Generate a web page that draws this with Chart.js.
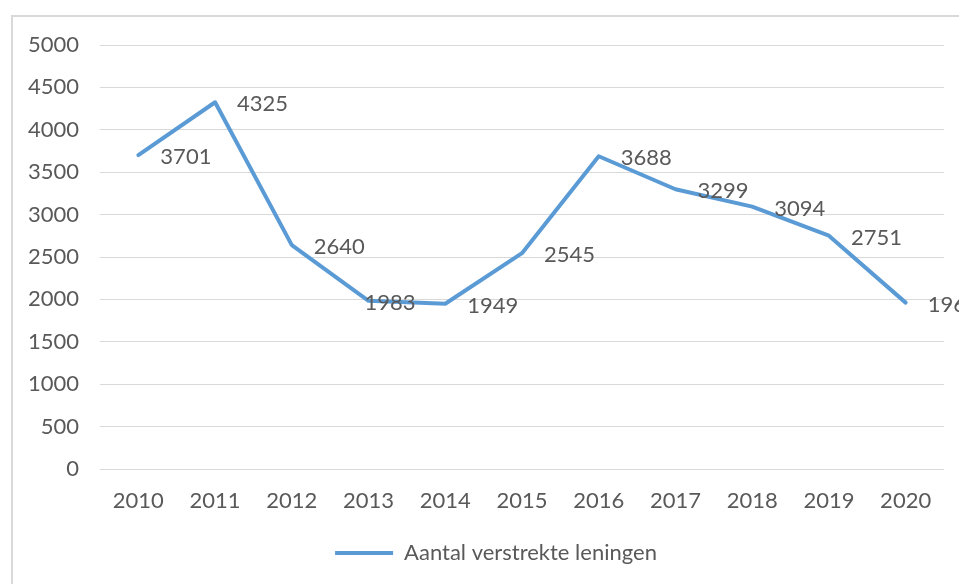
<!DOCTYPE html>
<html>
<head>
<meta charset="utf-8">
<script src="https://cdn.jsdelivr.net/npm/chart.js@4/dist/chart.umd.min.js"></script>
<style>
  html, body { margin: 0; padding: 0; background: #fff; }
  #wrap { position: relative; width: 959px; height: 584px; }
</style>
</head>
<body>
<div id="wrap"><canvas id="loansChart" width="959" height="584"></canvas></div>
<script>
// Data
const years = ['2010', '2011', '2012', '2013', '2014', '2015', '2016', '2017', '2018', '2019', '2020'];
const loans = [3701, 4325, 2640, 1983, 1949, 2545, 3688, 3299, 3094, 2751, 1962];
const seriesName = 'Aantal verstrekte leningen';

const TEXT = '#595959';
const GRID = '#d9d9d9';
const BLUE = '#5b9bd5';
const FONT = 'Lato, "Open Sans", sans-serif';
const SIZE = 22;

// grey frame around the chart, like the Excel chart border
const frame = {
  id: 'frame',
  beforeDraw(chart) {
    const ctx = chart.ctx;
    ctx.save();
    ctx.strokeStyle = GRID;
    ctx.lineWidth = 2;
    ctx.strokeRect(12, 16, 1000, 1000);
    ctx.restore();
  },
  // Excel centres the legend under the plot area, not the whole canvas
  afterLayout(chart) {
    const lg = chart.legend;
    if (lg) { lg.left += 24; lg.right += 24; }
  }
};

// value labels to the right of each point
const valueLabels = {
  id: 'valueLabels',
  afterDatasetsDraw(chart, args, opts) {
    const ctx = chart.ctx;
    const meta = chart.getDatasetMeta(0);
    ctx.save();
    ctx.font = opts.size + 'px ' + FONT;
    ctx.fillStyle = TEXT;
    ctx.textAlign = 'left';
    ctx.textBaseline = 'middle';
    meta.data.forEach((pt, i) => {
      const dx = opts.shift[i] !== undefined ? opts.shift[i] : opts.offset;
      ctx.fillText(String(chart.data.datasets[0].data[i]), pt.x + dx, pt.y + 2);
    });
    ctx.restore();
  }
};

new Chart(document.getElementById('loansChart'), {
  type: 'line',
  data: {
    labels: years,
    datasets: [{
      label: seriesName,
      data: loans,
      borderColor: BLUE,
      backgroundColor: BLUE,
      borderWidth: 4,
      borderCapStyle: 'round',
      borderJoinStyle: 'round',
      pointRadius: 0,
      tension: 0
    }]
  },
  options: {
    responsive: false,
    animation: false,
    layout: { padding: { top: 45, right: 15, bottom: 10, left: 0 } },
    scales: {
      x: {
        offset: true,
        grid: { display: false },
        border: { display: false },
        ticks: { color: TEXT, font: { family: FONT, size: SIZE }, padding: 11, maxRotation: 0 },
        afterFit(scale) { scale.height = 64; }
      },
      y: {
        min: 0,
        max: 5000,
        ticks: {
          stepSize: 500,
          color: TEXT,
          font: { family: FONT, size: SIZE },
          padding: 21,
          callback: v => String(v)
        },
        grid: { color: GRID, lineWidth: 1, drawTicks: false },
        border: { display: false },
        afterFit(scale) { scale.width = 100; }
      }
    },
    plugins: {
      legend: {
        position: 'bottom',
        labels: {
          color: TEXT,
          font: { family: FONT, size: SIZE },
          usePointStyle: true,
          pointStyle: 'line',
          pointStyleWidth: 58,
          padding: 9
        }
      },
      tooltip: { enabled: false },
      valueLabels: { size: SIZE, offset: 22, shift: { 3: -4 } }
    }
  },
  plugins: [frame, valueLabels]
});
</script>
</body>
</html>
